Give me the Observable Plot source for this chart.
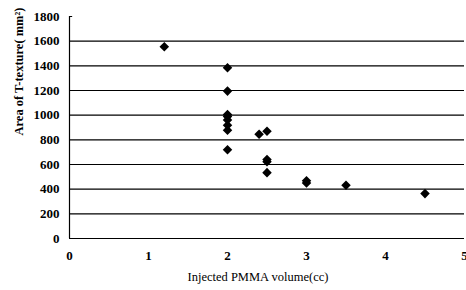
<!DOCTYPE html>
<html><head><meta charset="utf-8">
<script src="https://cdn.jsdelivr.net/npm/d3@7"></script>
<script src="https://cdn.jsdelivr.net/npm/@observablehq/plot@0.6"></script>
<style>body{margin:0;background:#fff}</style>
</head><body><div id="c"></div>
<script>
const volume = [1.2, 2, 2, 2, 2, 2, 2, 2, 2, 2.4, 2.5, 2.5, 2.5, 2.5, 3, 3, 3.5, 4.5];
const area   = [1555, 1385, 1195, 1005, 960, 918, 877, 720, 990, 845, 869, 640, 622, 534, 468, 450, 432, 364];
const yTicks = [0, 200, 400, 600, 800, 1000, 1200, 1400, 1600, 1800];
const gridLines = [200, 400, 600, 800, 1000, 1200, 1400, 1600];
const xTicks = [0, 1, 2, 3, 4, 5];
const xTitle = "Injected PMMA volume(cc)";
const yTitle = "Area of T-texture( mm²)";
const data = volume.map((v, i) => ({v, a: area[i]}));

const chart = Plot.plot({
  width: 466, height: 290,
  marginLeft: 69, marginRight: 2, marginTop: 16, marginBottom: 52,
  style: {fontFamily: "'Liberation Serif', serif", fontSize: "13px", color: "#000", fontWeight: "bold"},
  x: {domain: [0, 5], ticks: xTicks, tickFormat: d3.format("d"), tickSize: 0, tickPadding: 12, label: null},
  y: {domain: [0, 1800], ticks: yTicks, tickFormat: d3.format("d"), tickSize: 0, tickPadding: 10, label: null},
  marks: [
    Plot.ruleY(gridLines, {stroke: "#000", strokeWidth: 1.2}),
    Plot.ruleY([0], {stroke: "#000", strokeWidth: 1.2}),
    Plot.ruleX([0], {stroke: "#000", strokeWidth: 1.2}),
    Plot.ruleY([1800], {x1: 0, x2: 0.04, stroke: "#000"}),
    Plot.dot(data, {x: "v", y: "a", symbol: "diamond2", r: 4.3, fill: "#000", stroke: "none"}),
    Plot.text([xTitle], {text: d => d, frameAnchor: "bottom", dy: 42, dx: -9, fontSize: 12.5, fontWeight: "normal"}),
    Plot.text([yTitle], {text: d => d, frameAnchor: "left", rotate: -90, dx: -51, dy: 8, fontSize: 12.5, fontWeight: "bold"})
  ]
});
document.getElementById("c").append(chart);
</script>
</body></html>
